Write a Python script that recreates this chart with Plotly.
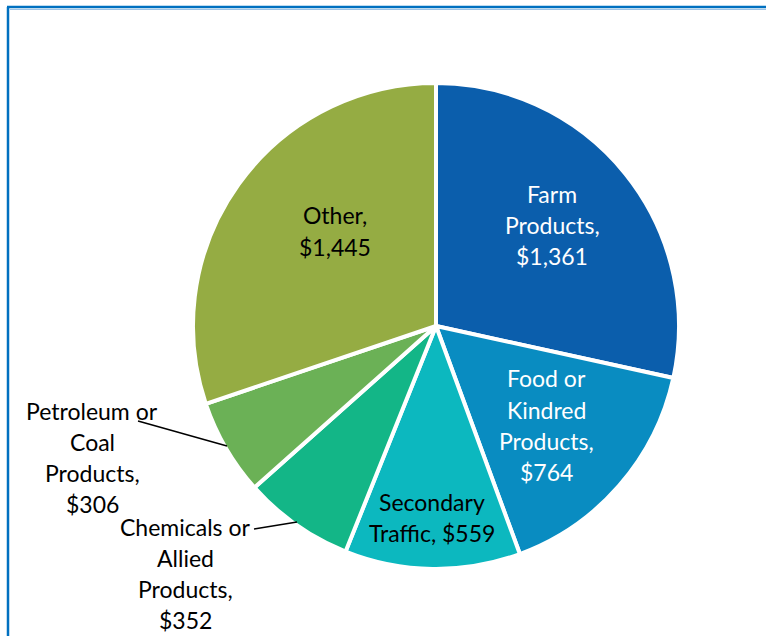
import plotly.graph_objects as go

W, H = 766, 636

categories = ["Farm Products", "Food or Kindred Products", "Secondary Traffic",
              "Chemicals or Allied Products", "Petroleum or Coal Products", "Other"]
values = [1361, 764, 559, 352, 306, 1445]
colors = ["#0B5EAC", "#098CC1", "#0CB8BF", "#13B687", "#6BB156", "#95AC43"]

# label lines, text colour, centre in pixels
label_lines = [
    ["Farm", "Products,", "$1,361"],
    ["Food or", "Kindred", "Products,", "$764"],
    ["Secondary", "Traffic, $559"],
    ["Chemicals or", "Allied", "Products,", "$352"],
    ["Petroleum or", "Coal", "Products,", "$306"],
    ["Other,", "$1,445"],
]
label_colors = ["white", "white", "black", "black", "black", "black"]
label_pos = [(552, 225), (546, 425), (432, 517), (185, 573), (92, 457), (335, 231)]

fig = go.Figure()

fig.add_trace(go.Pie(
    labels=categories,
    values=values,
    sort=False,
    direction="clockwise",
    rotation=0,
    textinfo="none",
    hoverinfo="label+value",
    marker=dict(colors=colors, line=dict(color="white", width=4)),
    domain=dict(x=[(436 - 243) / W, (436 + 243) / W], y=[1 - 569 / H, 1 - 83 / H]),
    showlegend=False,
))

# labels, one annotation per line so the line spacing matches
step = 31
for lines, col, (cx, cy) in zip(label_lines, label_colors, label_pos):
    y0 = cy - step * (len(lines) - 1) / 2
    for i, txt in enumerate(lines):
        fig.add_annotation(
            x=cx / W, y=1 - (y0 + i * step) / H, xref="paper", yref="paper",
            text=txt, showarrow=False, xanchor="center", yanchor="middle",
            font=dict(family="Lato", size=23, color=col),
        )

# leader lines for outside labels
leaders = [((138, 421), (227, 446)), ((254, 529), (297, 522))]
for (x0, y0), (x1, y1) in leaders:
    fig.add_shape(type="line", xref="paper", yref="paper",
                  x0=x0 / W, y0=1 - y0 / H, x1=x1 / W, y1=1 - y1 / H,
                  line=dict(color="black", width=1.5))

# blue frame (left and top edges)
fig.add_shape(type="line", xref="paper", yref="paper",
              x0=8 / W, y0=1 - 7 / H, x1=8 / W, y1=0,
              line=dict(color="#0070C0", width=2.5))
fig.add_shape(type="line", xref="paper", yref="paper",
              x0=7 / W, y0=1 - 7 / H, x1=1, y1=1 - 7 / H,
              line=dict(color="#0070C0", width=2.5))
fig.add_shape(type="line", xref="paper", yref="paper",
              x0=10 / W, y0=1 - 9.5 / H, x1=1, y1=1 - 9.5 / H,
              line=dict(color="#9DC3E6", width=1))

fig.update_layout(
    width=W, height=H,
    margin=dict(l=0, r=0, t=0, b=0),
    paper_bgcolor="white",
    plot_bgcolor="white",
)

fig.write_html(
    "out.html",
    config={"displayModeBar": False},
    post_script="document.body.style.margin='0px';document.body.style.overflow='hidden';",
)
